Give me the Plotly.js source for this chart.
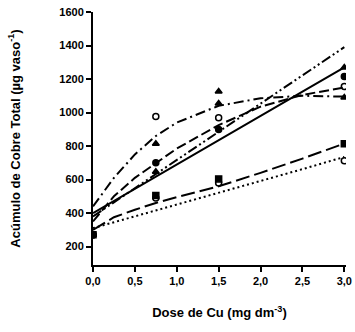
<!DOCTYPE html>
<html><head><meta charset="utf-8">
<script src="https://cdn.plot.ly/plotly-3.0.1.min.js"></script>
<style>body{margin:0;background:#fff}#c{width:355px;height:332px}</style>
</head><body><div id="c"></div>
<script>
// Observed doses
const doses = [0, 0.75, 1.5, 3];
// Observed points (µg vaso-1)
const ptsFilledCircle = [270, 700, 898, 1215];
const ptsTriangleA    = [270, 647, 1054, 1269];
const ptsTriangleB    = [270, 814, 1126, 1090];
const ptsOpenCircleA  = [270, 976, 969, 1156];
const ptsSquare       = [270, 505, 604, 814];
const ptsOpenCircleB  = [270, 490, 580, 712];
// Fitted curves
const curveX = [0, 0.25, 0.5, 0.75, 1, 1.5, 2, 2.5, 3];
const fitSolid     = [400, 473, 545, 618, 690, 835, 980, 1125, 1270];
const fitDashDotDot= [380, 464, 548, 632, 716, 885, 1053, 1222, 1390];
const fitDashDot   = [440, 610, 750, 860, 940, 1040, 1085, 1100, 1095];
const fitLongDash  = [350, 500, 610, 700, 785, 925, 1035, 1105, 1150];
const fitLowDash   = [300, 375, 420, 460, 495, 560, 640, 725, 815];
const fitDotted    = [310, 345, 380, 415, 450, 520, 590, 662, 735];
// Axis ticks
const xTicks = [0, 0.5, 1, 1.5, 2, 2.5, 3];
const xTickText = ['0,0','0,5','1,0','1,5','2,0','2,5','3,0'];
const yTicks = [200, 400, 600, 800, 1000, 1200, 1400, 1600];

const lw = 2;
function line(y, dash){return {x: curveX, y: y, mode:'lines', line:{color:'#000', width:lw, dash:dash}, hoverinfo:'skip', showlegend:false};}
function pts(y, sym){return {x: doses, y: y, mode:'markers', marker:{color:'#000', size:6, symbol:sym, line:{color:'#000', width:1.5}}, showlegend:false};}

const data = [
  line(fitSolid, 'solid'),
  line(fitDashDotDot, '10px,3px,2px,3px,2px,3px'),
  line(fitDashDot, '10px,4px,2px,4px'),
  line(fitLongDash, '10px,4px'),
  line(fitLowDash, '14px,5px'),
  line(fitDotted, '2px,3px'),
  pts(ptsFilledCircle, 'circle'),
  pts(ptsTriangleA, 'triangle-up'),
  pts(ptsTriangleB, 'triangle-up'),
  pts(ptsOpenCircleA, 'circle-open'),
  pts(ptsSquare, 'square'),
  pts(ptsOpenCircleB, 'circle-open')
];

const fam = 'Liberation Sans, Arial, sans-serif';
const layout = {
  width:355, height:332,
  margin:{l:93, r:9, t:12, b:67},
  paper_bgcolor:'#fff', plot_bgcolor:'#fff',
  showlegend:false,
  font:{family:fam, color:'#000', size:11},
  xaxis:{
    range:[0, 3.02], tickvals:xTicks, ticktext:xTickText,
    showline:true, linecolor:'#000', linewidth:2, ticks:'outside', ticklen:5, tickwidth:2, tickcolor:'#000',
    showgrid:false, zeroline:false,
    tickfont:{family:fam, size:11, color:'#000', weight:'bold'},
    title:{text:'<b>Dose de Cu (mg dm<sup>-3</sup>)</b>', font:{family:fam, size:13, color:'#000'}, standoff:22}
  },
  yaxis:{
    range:[90, 1600], tickvals:yTicks,
    showline:true, linecolor:'#000', linewidth:2, ticks:'outside', ticklen:5, tickwidth:2, tickcolor:'#000',
    showgrid:false, zeroline:false,
    tickfont:{family:fam, size:11, color:'#000', weight:'bold'},
    title:{text:'<b>Acúmulo de Cobre Total (µg vaso<sup>-1</sup>)</b>', font:{family:fam, size:13, color:'#000'}, standoff:36}
  }
};
Plotly.newPlot('c', data, layout, {displayModeBar:false, staticPlot:true});
</script></body></html>
